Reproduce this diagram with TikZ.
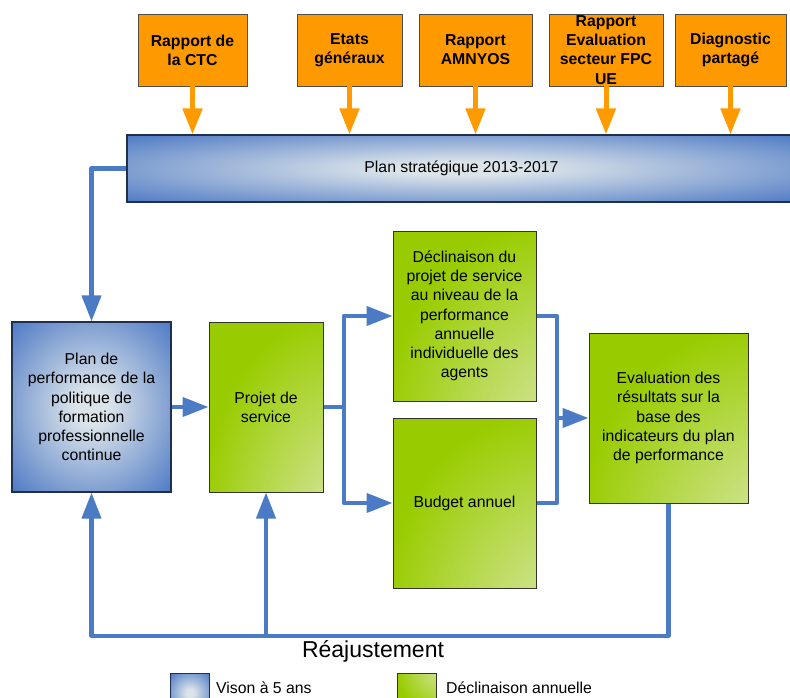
\documentclass[tikz,border=0pt]{standalone}
\usepackage{fontspec}
\setmainfont{Liberation Sans}
\usepackage{tikz}
\usetikzlibrary{arrows.meta,positioning}
\definecolor{orangebox}{HTML}{FF9900}
\definecolor{orangeline}{HTML}{FF9A00}
\definecolor{bluebase}{HTML}{4674C2}
\definecolor{bluelight}{HTML}{DCE4EA}
\definecolor{bluedark}{HTML}{1F2F4C}
\definecolor{blueline}{HTML}{4B7BC4}
\definecolor{greenbase}{HTML}{99CC00}
\definecolor{greenpale}{HTML}{EEF1E2}
\pgfdeclareradialshading{bluecentre}{\pgfpoint{0bp}{0bp}}{color(0bp)=(bluelight); color(5bp)=(bluelight); color(37bp)=(bluebase); color(50bp)=(bluebase)}
\pgfdeclareradialshading{greencorner}{\pgfpoint{50bp}{-50bp}}{color(0bp)=(greenpale); color(58bp)=(greenbase); color(150bp)=(greenbase)}

\begin{document}
\begin{tikzpicture}[x=1pt,y=-1pt,>={Triangle[length=26pt,width=19pt]},
    every node/.style={font=\fontsize{15.8}{19.2}\selectfont,align=center,inner sep=0pt},
    sourcebox/.style={draw=black!70,line width=0.8pt,fill=orangebox,minimum height=72pt,
        font=\fontsize{15.8}{19.2}\selectfont\bfseries},
    visionbox/.style={draw=bluedark,line width=1.2pt,shading=bluecentre},
    annualbox/.style={draw=black!80,line width=1pt,shading=greencorner,minimum height=170pt},
    feedarrow/.style={orangeline,line width=5pt},
    linkarrow/.style={blueline,line width=4.2pt,line join=round}]
    \useasboundingbox (0,0) rectangle (790,698);
    % sources of the strategic plan
    \node[sourcebox,minimum width=109pt] (ctc) at (192.5,50) {Rapport de\\la CTC};
    \node[sourcebox,minimum width=105pt] (etats) at (349.5,50) {Etats\\généraux};
    \node[sourcebox,minimum width=113pt] (amnyos) at (475.5,50) {Rapport\\AMNYOS};
    \node[sourcebox,minimum width=114pt] (fpc) at (606,50) {Rapport\\Evaluation\\secteur FPC\\UE};
    \node[sourcebox,minimum width=111pt] (diag) at (730.5,50) {Diagnostic\\partagé};
    \node[visionbox,minimum width=669pt,minimum height=67pt] (plan) at (461.5,168.5)
        {Plan stratégique 2013-2017};
    \foreach \src in {ctc,etats,amnyos,fpc,diag}
        \draw[feedarrow,->] (\src.south) -- (\src.south |- plan.north);
    % main row
    \node[visionbox,minimum width=159pt,minimum height=170pt] (perf) at (91.5,407)
        {Plan de\\performance de la\\politique de\\formation\\professionnelle\\continue};
    \node[annualbox,minimum width=114pt] (projet) at (266,407) {Projet de\\service};
    \node[annualbox,minimum width=143pt] (decl) at (464.5,316)
        {Déclinaison du\\projet de service\\au niveau de la\\performance\\annuelle\\individuelle des\\agents};
    \node[annualbox,minimum width=143pt] (budget) at (464.5,503) {Budget annuel};
    \node[annualbox,minimum width=159pt] (eval) at (668.5,418)
        {Evaluation des\\résultats sur la\\base des\\indicateurs du plan\\de performance};
    \coordinate (split) at (344,407);
    \coordinate (join) at (557,418);
    \coordinate (back) at (91.5,636);
    \coordinate (backmid) at (266,636);
    \draw[linkarrow,->] (plan.west) -| (perf.north);
    \draw[linkarrow,->] (perf) -- (projet);
    \draw[linkarrow] (projet.east) -- (split);
    \draw[linkarrow,->] (split) |- (decl.west);
    \draw[linkarrow,->] (split) |- (budget.west);
    \draw[linkarrow] (decl.east) -| (join) |- (budget.east);
    \draw[linkarrow,->] (join) -- (eval.west);
    % feedback loop
    \draw[linkarrow,->] (eval.south) |- (back) -- (perf.south);
    \draw[linkarrow,->] (backmid) -- (projet.south);
    \node[font=\fontsize{23}{28}\selectfont,anchor=base] (reaj) at (373,657.5) {Réajustement};
    % legend
    \node[visionbox,line width=1pt,minimum size=39pt,anchor=north west] (keyblue) at (170,673) {};
    \node[anchor=base west] (keybluetext) at (216,693.5) {Vison à 5 ans};
    \node[annualbox,shading angle=90,minimum size=39pt,anchor=north west] (keygreen) at (397,673) {};
    \node[anchor=base west] (keygreentext) at (446,693.5) {Déclinaison annuelle};
\end{tikzpicture}
\end{document}
